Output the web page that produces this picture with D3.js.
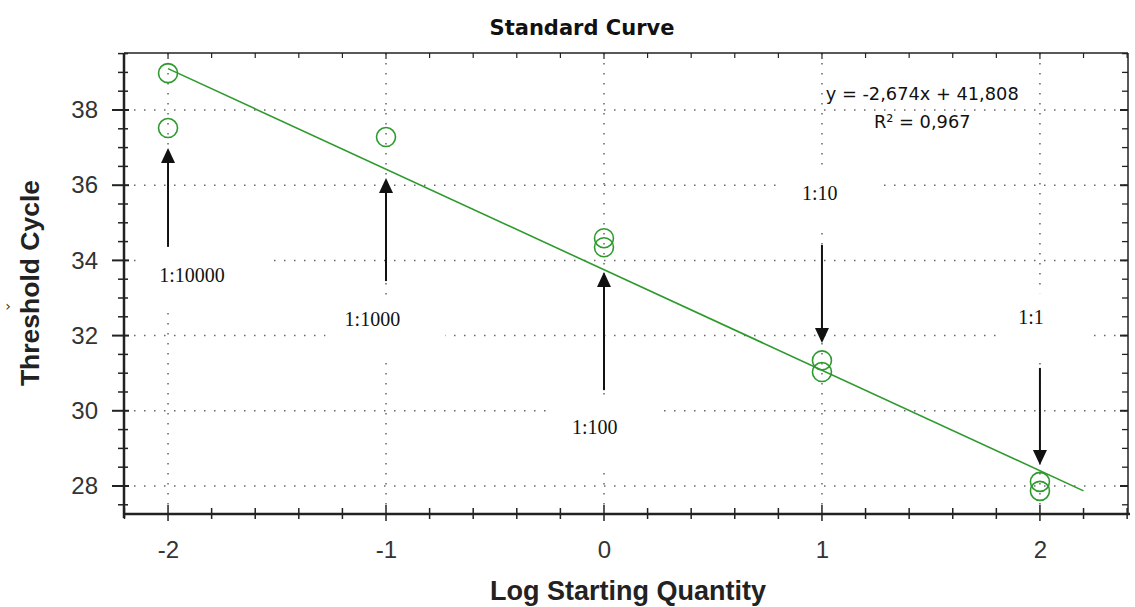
<!DOCTYPE html>
<html>
<head>
<meta charset="utf-8">
<script src="https://cdn.jsdelivr.net/npm/d3@7"></script>
<style>
  html, body { margin: 0; padding: 0; background: #fff; }
  svg { display: block; }
</style>
</head>
<body>
<svg id="chart" width="1135" height="607"></svg>
<script>
// ---------------- data ----------------
const chartTitle = "Standard Curve";
const xAxisTitle = "Log Starting Quantity";
const yAxisTitle = "Threshold Cycle";
const xTicks = [-2, -1, 0, 1, 2];
const yTicks = [28, 30, 32, 34, 36, 38];
const logQuantity    = [-2, -2, -1, 0, 0, 1, 1, 2, 2];
const thresholdCycle = [38.98, 37.52, 37.28, 34.59, 34.35, 31.34, 31.03, 28.11, 27.87];
const fitX = [-2, 2.2];
const fitY = [39.1, 27.87];
const equationLines = ["y = -2,674x + 41,808", "R\u00B2 = 0,967"];
const dilutionLabels = ["1:10000", "1:1000", "1:100", "1:10", "1:1"];
const dilutionX      = [-2, -1, 0, 1, 2];
const labelX         = [-2.04, -1.19, -0.147, 0.908, 1.90];
const labelY         = [33.61, 32.44, 29.57, 35.79, 32.49];
const arrowFrom      = [34.36, 33.45, 30.55, 34.41, 31.14];
const arrowTo        = [36.99, 36.19, 33.69, 31.80, 28.56];

// ---------------- layout ----------------
const svg = d3.select("#chart");
const pL = 124, pR = 1128, pT = 53, pB = 514;
const x = d3.scaleLinear().domain([-2.202, 2.404]).range([pL, pR]);
const y = d3.scaleLinear().domain([27.255, 39.516]).range([pB, pT]);

const gridColor = "#666";
const green = "#2e9a2e";

// gridlines
const grid = svg.append("g");
grid.selectAll("line.gx").data(xTicks).join("line")
  .attr("x1", d => x(d)).attr("x2", d => x(d))
  .attr("y1", pT).attr("y2", pB)
  .attr("stroke", gridColor).attr("stroke-width", 1.5)
  .attr("stroke-dasharray", "1.5,8.5");
grid.selectAll("line.gy").data(yTicks).join("line")
  .attr("y1", d => y(d)).attr("y2", d => y(d))
  .attr("x1", pL).attr("x2", pR)
  .attr("stroke", gridColor).attr("stroke-width", 1.5)
  .attr("stroke-dasharray", "1.5,8.5");

// annotation label boxes + text
const ann = dilutionLabels.map((t, i) => ({t, lx: labelX[i], ly: labelY[i], ax: dilutionX[i], from: arrowFrom[i], to: arrowTo[i]}));
const boxes = svg.append("g");
const labels = svg.append("g");
ann.forEach(a => {
  const txt = labels.append("text")
    .attr("x", x(a.lx)).attr("y", y(a.ly))
    .attr("dominant-baseline", "central")
    .attr("font-family", "'Liberation Serif', 'Times New Roman', serif")
    .attr("font-size", 20).attr("fill", "#111")
    .text(a.t);
  const bb = txt.node().getBBox();
  boxes.append("rect")
    .attr("x", bb.x - 19).attr("y", y(a.ly) - 24)
    .attr("width", bb.width + 64).attr("height", 62)
    .attr("fill", "#fff");
});

// fit line
svg.append("line")
  .attr("x1", x(fitX[0])).attr("y1", y(fitY[0]))
  .attr("x2", x(fitX[1])).attr("y2", y(fitY[1]))
  .attr("stroke", green).attr("stroke-width", 1.6);

// points
svg.append("g").selectAll("circle")
  .data(logQuantity.map((q, i) => ({q, c: thresholdCycle[i]})))
  .join("circle")
  .attr("cx", d => x(d.q)).attr("cy", d => y(d.c)).attr("r", 9.5)
  .attr("fill", "none").attr("stroke", green).attr("stroke-width", 1.6);

// arrows
const arrows = svg.append("g");
ann.forEach(a => {
  const ax = x(a.ax), y0 = y(a.from), y1 = y(a.to);
  const dir = y1 < y0 ? 1 : -1;
  const headLen = 15, headW = 7;
  arrows.append("line")
    .attr("x1", ax).attr("x2", ax)
    .attr("y1", y0).attr("y2", y1 + dir * headLen * 0.6)
    .attr("stroke", "#111").attr("stroke-width", 2);
  arrows.append("path")
    .attr("d", `M${ax},${y1} L${ax - headW},${y1 + dir * headLen} L${ax + headW},${y1 + dir * headLen} Z`)
    .attr("fill", "#111");
});
labels.raise();

// equation
const eq = svg.append("g")
  .attr("font-family", "'DejaVu Sans', Verdana, sans-serif")
  .attr("font-size", 17.8).attr("fill", "#111")
  .attr("text-anchor", "middle");
eq.append("text").attr("x", x(1.46)).attr("y", y(38.45)).attr("dominant-baseline", "central").text(equationLines[0]);
eq.append("text").attr("x", x(1.46)).attr("y", y(37.7)).attr("dominant-baseline", "central").text(equationLines[1]);

// axes frame
const axisColor = "#222";
const frame = svg.append("g").attr("stroke", axisColor);
frame.append("line").attr("x1", pL).attr("x2", pR).attr("y1", pT).attr("y2", pT).attr("stroke-width", 1.5);
frame.append("line").attr("x1", pR).attr("x2", pR).attr("y1", pT).attr("y2", pB).attr("stroke-width", 1.5);
frame.append("line").attr("x1", pL).attr("x2", pR + 2).attr("y1", pB).attr("y2", pB).attr("stroke-width", 2.5);
frame.append("line").attr("x1", pL).attr("x2", pL).attr("y1", pT).attr("y2", pB + 4).attr("stroke-width", 2.5);

const xMinor = d3.range(-22, 25, 2).map(v => v / 10);
const yMinor = d3.range(275, 400, 5).map(v => v / 10);
const isMajor = v => Math.abs(v - Math.round(v)) < 1e-6;
const isMajorY = v => Math.abs(v / 2 - Math.round(v / 2)) < 1e-6;

frame.selectAll("line.bt").data(xMinor).join("line")
  .attr("x1", d => x(d)).attr("x2", d => x(d))
  .attr("y1", d => pB - (isMajor(d) ? 9 : 6)).attr("y2", d => pB + (isMajor(d) ? 7 : 5))
  .attr("stroke-width", 1.5);
frame.selectAll("line.tt").data(xMinor).join("line")
  .attr("x1", d => x(d)).attr("x2", d => x(d))
  .attr("y1", pT).attr("y2", d => pT + (isMajor(d) ? 6 : 5))
  .attr("stroke-width", 1.2);
frame.selectAll("line.lt").data(yMinor).join("line")
  .attr("y1", d => y(d)).attr("y2", d => y(d))
  .attr("x1", d => pL - (isMajorY(d) ? 12 : 6)).attr("x2", d => pL + (isMajorY(d) ? 5 : 4))
  .attr("stroke-width", d => isMajorY(d) ? 2 : 1.5);
frame.selectAll("line.rt").data(yMinor).join("line")
  .attr("y1", d => y(d)).attr("y2", d => y(d))
  .attr("x1", d => pR - (isMajorY(d) ? 8 : 6)).attr("x2", pR)
  .attr("stroke-width", d => isMajorY(d) ? 2 : 1.3);

// tick labels via d3 axes
const xAxis = svg.append("g").attr("transform", `translate(0,${pB})`)
  .call(d3.axisBottom(x).tickValues(xTicks).tickSize(0).tickPadding(27).tickFormat(d => String(d)));
const yAxis = svg.append("g").attr("transform", `translate(${pL},0)`)
  .call(d3.axisLeft(y).tickValues(yTicks).tickSize(0).tickPadding(26).tickFormat(d => String(d)));
[xAxis, yAxis].forEach(g => {
  g.select(".domain").remove();
  g.selectAll("text").attr("font-family", "'Liberation Sans', Arial, sans-serif")
    .attr("font-size", 24).attr("fill", "#333");
});

// titles
svg.append("text").attr("x", 582).attr("y", 28)
  .attr("text-anchor", "middle").attr("dominant-baseline", "central")
  .attr("font-family", "'DejaVu Sans', Tahoma, sans-serif").attr("font-weight", "bold")
  .attr("font-size", 21).attr("fill", "#111").text(chartTitle);
svg.append("text").attr("x", 628).attr("y", 591)
  .attr("text-anchor", "middle").attr("dominant-baseline", "central")
  .attr("font-family", "'Liberation Sans', Arial, sans-serif").attr("font-weight", "bold")
  .attr("font-size", 27).attr("fill", "#222").text(xAxisTitle);
svg.append("text")
  .attr("transform", "translate(30,283) rotate(-90)")
  .attr("text-anchor", "middle").attr("dominant-baseline", "central")
  .attr("font-family", "'Liberation Sans', Arial, sans-serif").attr("font-weight", "bold")
  .attr("font-size", 26.5).attr("fill", "#222").text(yAxisTitle);
svg.append("text").attr("x", 8).attr("y", 306)
  .attr("text-anchor", "middle").attr("dominant-baseline", "central")
  .attr("font-family", "'DejaVu Sans', sans-serif").attr("font-size", 14)
  .attr("fill", "#333").text("\u203A");
</script>
</body>
</html>
